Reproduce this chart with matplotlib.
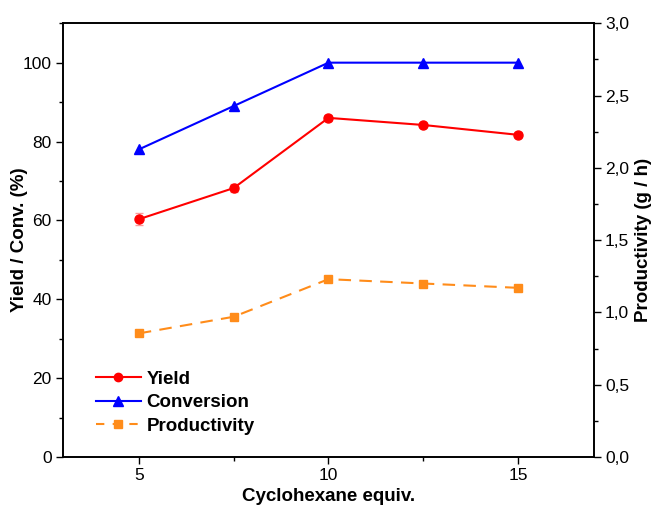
import matplotlib
matplotlib.use('Agg')
import matplotlib.pyplot as plt
from matplotlib.lines import Line2D
from matplotlib.ticker import MultipleLocator, FuncFormatter

plt.rcParams['font.family'] = ['Liberation Sans', 'DejaVu Sans']

# data
equiv = [5, 7.5, 10, 12.5, 15]
yield_pct = [60.3, 68.2, 86.0, 84.2, 81.7]
yield_err = [1.5, 1.0, 0.8, 0.6, 0.6]
conversion = [78.0, 89.0, 100.0, 100.0, 100.0]
productivity = [0.855, 0.97, 1.23, 1.20, 1.17]

red = '#ff0000'
blue = '#0000ff'
orange = '#ff8c1a'

fig = plt.figure(figsize=(6.52, 5.05), dpi=100)
ax = fig.add_axes([0.0966, 0.095, 0.8144, 0.859])
ax2 = ax.twinx()

ax.errorbar(equiv, yield_pct, yerr=yield_err, color=red, marker='o',
            markersize=6.5, lw=1.5, ecolor='#ff9999', elinewidth=1, capsize=3)
ax.plot(equiv, conversion, color=blue, marker='^', markersize=7,
        lw=1.5)
ax2.plot(equiv, productivity, color=orange, marker='s', markersize=6,
         lw=1.5, ls=(0, (6, 4)))

ax.set_xlim(3, 17)
ax.set_ylim(0, 110)
ax2.set_ylim(0, 3.0)

ax.xaxis.set_major_locator(MultipleLocator(5))
ax.xaxis.set_minor_locator(MultipleLocator(2.5))
ax.yaxis.set_major_locator(MultipleLocator(20))
ax.yaxis.set_minor_locator(MultipleLocator(10))
ax2.yaxis.set_major_locator(MultipleLocator(0.5))
ax2.yaxis.set_minor_locator(MultipleLocator(0.25))
ax2.yaxis.set_major_formatter(FuncFormatter(lambda v, p: f'{v:.1f}'.replace('.', ',')))

for a in (ax, ax2):
    a.tick_params(which='major', direction='out', length=5, width=1,
                  labelsize=12.5, pad=3)
    a.tick_params(which='minor', direction='out', length=3, width=1)
    for s in a.spines.values():
        s.set_linewidth(1.2)

ax.set_xlabel('Cyclohexane equiv.', fontsize=13.5, fontweight='bold')
ax.set_ylabel('Yield / Conv. (%)', fontsize=13.5, fontweight='bold')
ax2.set_ylabel('Productivity (g / h)', fontsize=13.5, fontweight='bold')
ax.xaxis.set_label_coords(0.5, -0.072)
ax.yaxis.set_label_coords(-0.066, 0.5)
ax2.yaxis.set_label_coords(1.077, 0.5)

handles = [
    Line2D([], [], color=red, marker='o', markersize=6, lw=1.5),
    Line2D([], [], color=blue, marker='^', markersize=6.5, lw=1.5),
    Line2D([], [], color=orange, marker='s', markersize=5.5, lw=1.5, ls=(0, (4, 4))),
]
ax.legend(handles, ['Yield', 'Conversion', 'Productivity'],
          loc='lower left', bbox_to_anchor=(0.03, 0.012), frameon=False,
          prop={'weight': 'bold', 'size': 13.5}, handlelength=2.4,
          labelspacing=0.35, handletextpad=0.3)

fig.savefig('out.png', dpi=100)
